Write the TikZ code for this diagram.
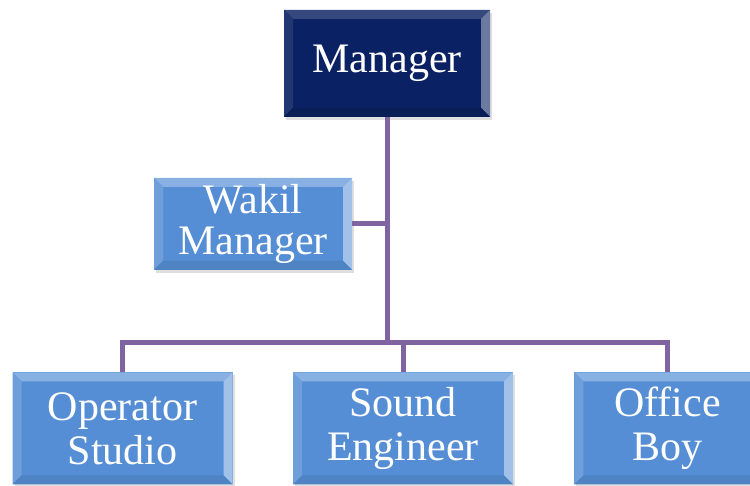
\documentclass[tikz,border=0pt]{standalone}
\usepackage{fontspec}
\setmainfont{Liberation Serif}
\usetikzlibrary{positioning,calc,shadows}

\definecolor{navy}{RGB}{10,33,99}
\definecolor{unitblue}{RGB}{85,142,213}
\definecolor{linkpurple}{RGB}{128,100,162}

% bevelled rim of a box: top, left, right, bottom
\newcommand\bevel[4]{%
	\coordinate (bnw) at (path picture bounding box.north west);
	\coordinate (bse) at (path picture bounding box.south east);
	\fill[#1] (bnw) -- (bnw -| bse) -- ++(-9pt,-9pt) -- ($(bnw)+(9pt,-9pt)$) -- cycle;
	\fill[#2] (bnw) -- ($(bnw)+(9pt,-9pt)$) -- ($(bse -| bnw)+(9pt,9pt)$) -- (bse -| bnw) -- cycle;
	\fill[#3] (bnw -| bse) -- (bse) -- ++(-9pt,9pt) -- ($(bnw -| bse)+(-9pt,-9pt)$) -- cycle;
	\fill[#4] (bse) -- (bse -| bnw) -- ++(9pt,9pt) -- ($(bse)+(-9pt,9pt)$) -- cycle;
}

\begin{document}
\begin{tikzpicture}[x=1pt,y=1pt,
	box/.style={rectangle, inner sep=0pt, align=center, text=white, font=\fontsize{42}{44}\selectfont, drop shadow={shadow xshift=2pt, shadow yshift=-3pt, opacity=0.25}},
	boss/.style={box, fill=navy, minimum width=206pt, minimum height=107pt, path picture={\bevel{navy!82!white}{navy!90!white}{navy!60!white}{navy!88!black}}},
	unit/.style={box, fill=unitblue, minimum width=220pt, minimum height=112pt, path picture={\bevel{unitblue!70!white}{unitblue!85!white}{unitblue!55!white}{unitblue!92!black}}},
	links/.style={draw=linkpurple, line width=5pt}]

	\useasboundingbox (0,0) rectangle (750,486);

	\node[boss] (manager) at (387,422.5) {Manager};
	\node[unit, minimum width=198pt, minimum height=92pt, font=\fontsize{42}{41}\selectfont] (wakil) at (253,262) {Wakil\\Manager};

	\node[unit, below = 255pt of manager, xshift=16pt] (sound) {Sound\\Engineer};
	\node[unit, left = 60pt of sound] (operator) {Operator\\Studio};
	\node[unit, right = 61pt of sound, minimum width=186pt] (office) {Office\\Boy};

	\coordinate (hub) at ($(manager.south |- 0,143)$);

	\draw[links] (manager.south) -- (hub);
	\draw[links] (wakil.east) -- (wakil.east -| manager.south);
	\draw[links] (hub) -| (operator.north);
	\draw[links] (hub) -| (sound.north);
	\draw[links] (hub) -| (office.north);

\end{tikzpicture}
\end{document}
